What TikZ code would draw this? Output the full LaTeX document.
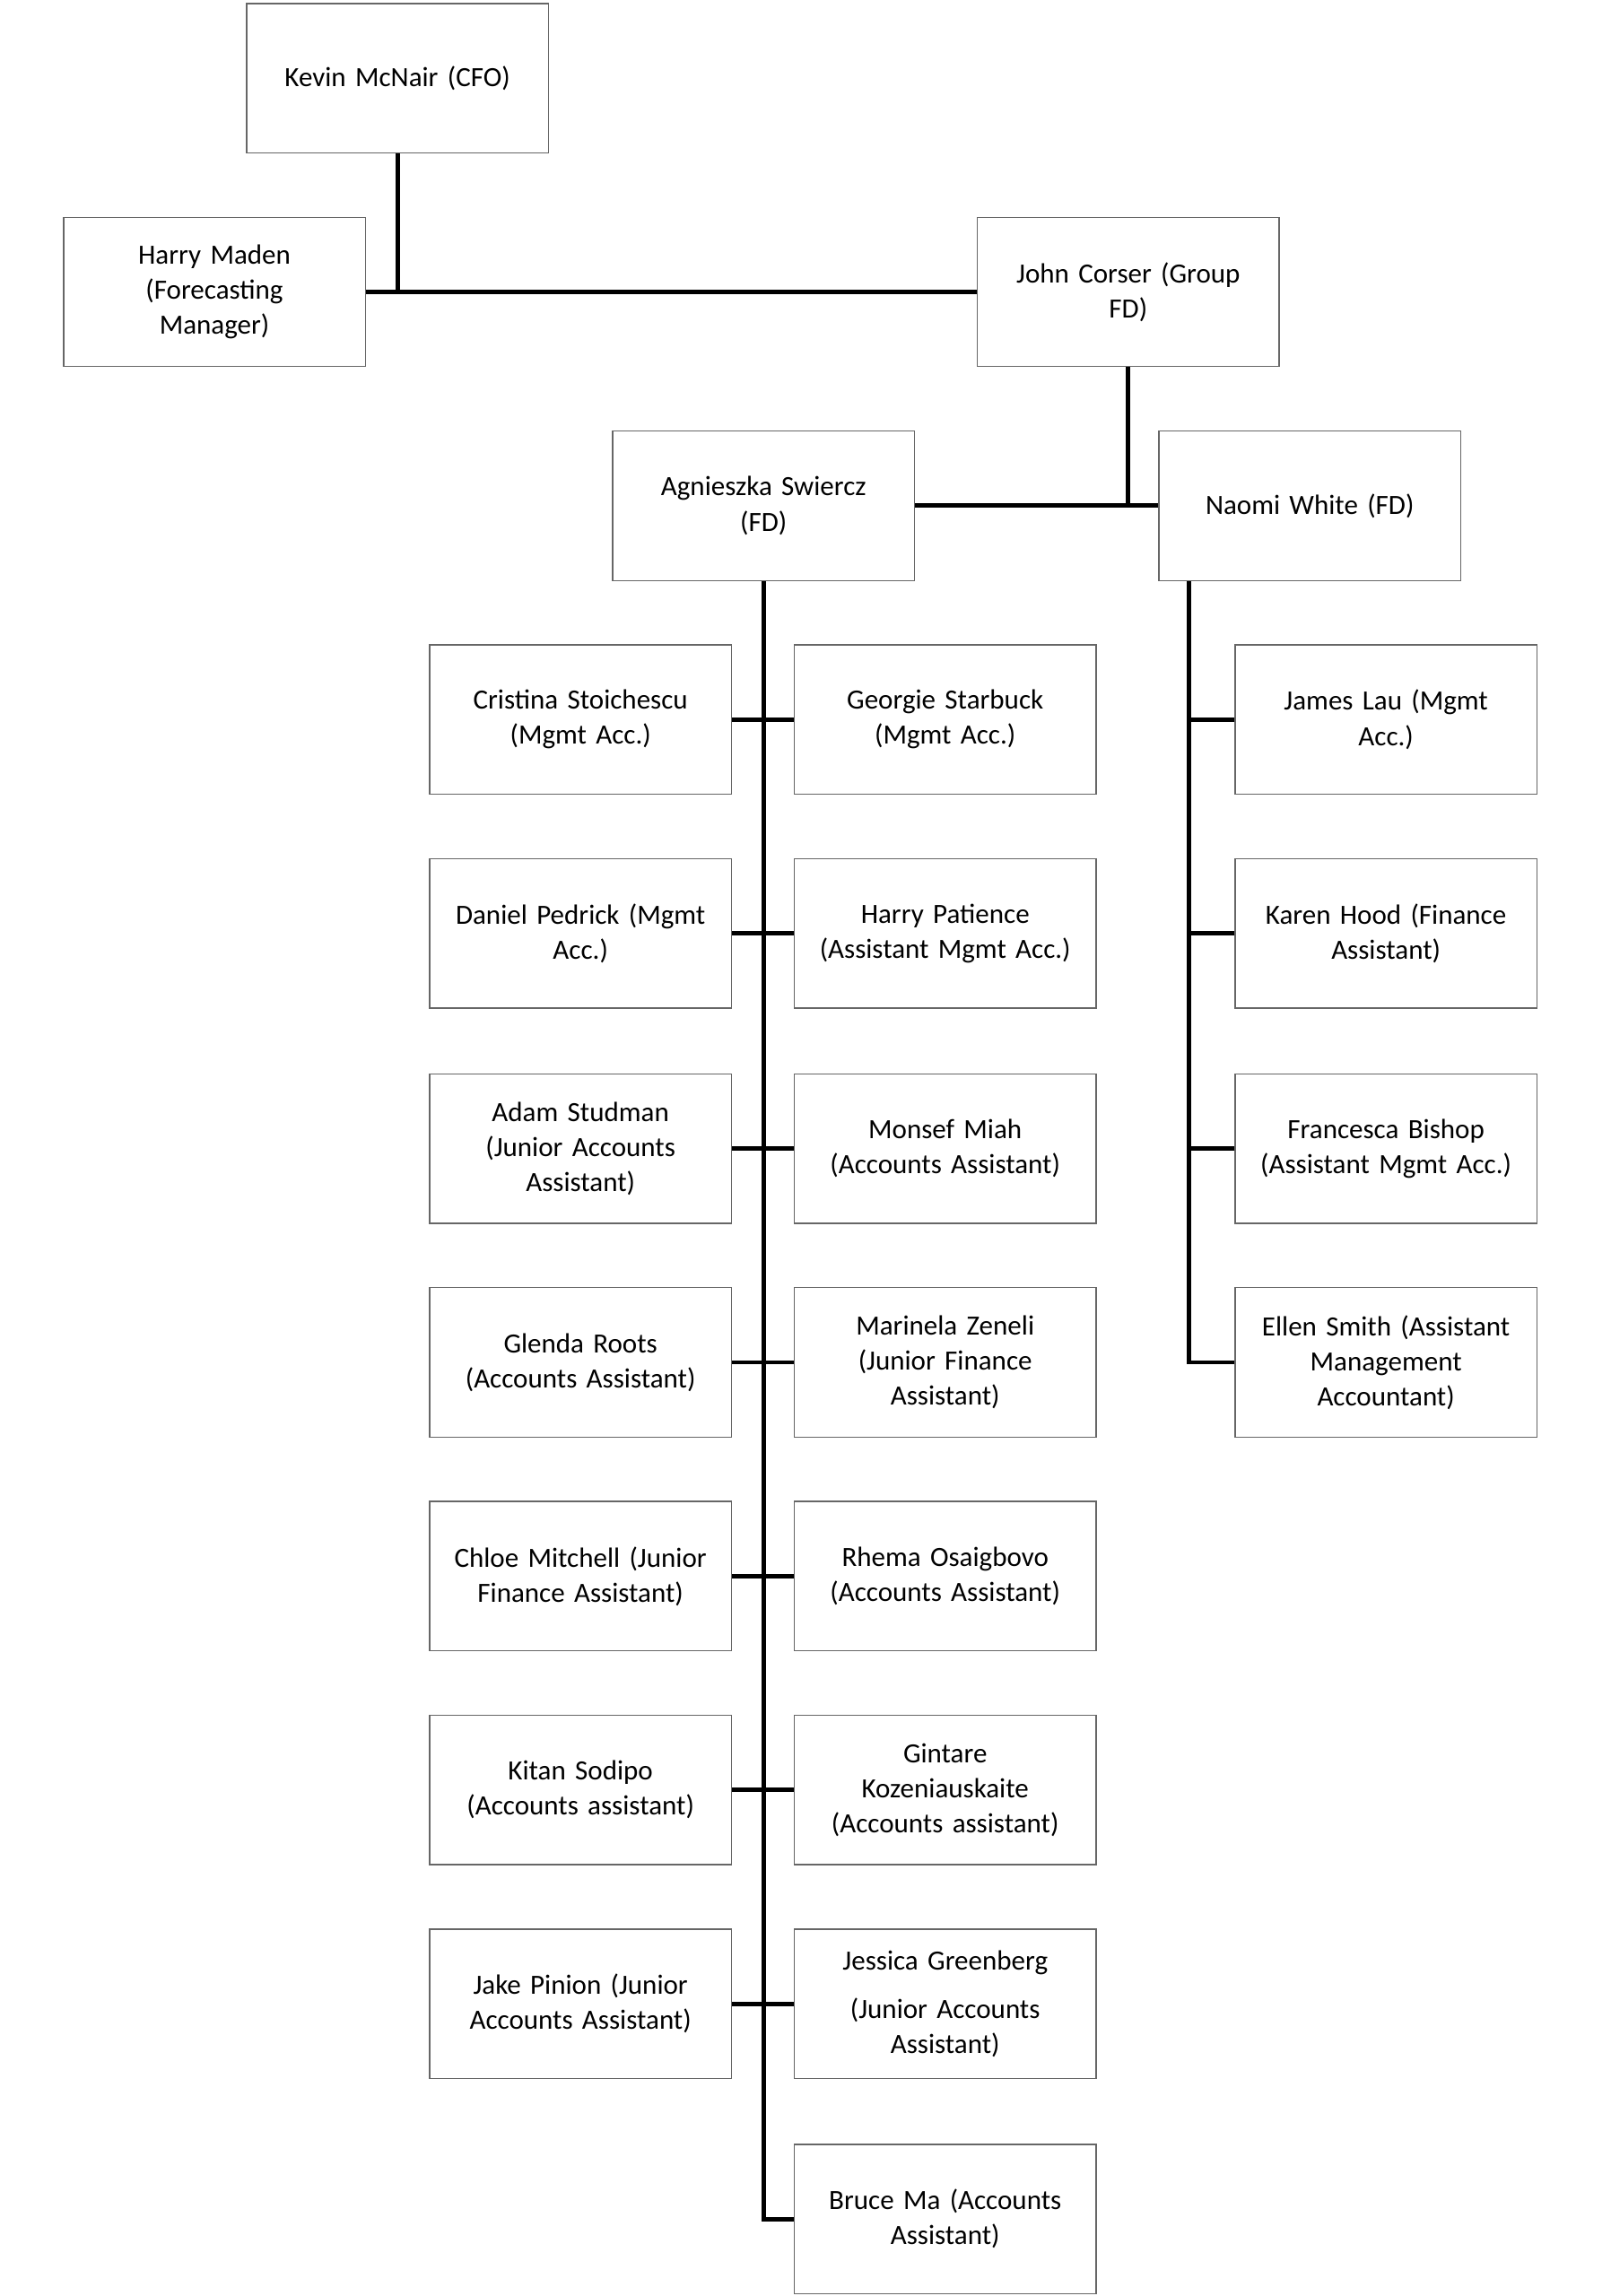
\documentclass[tikz,border=0pt]{standalone}
\usepackage{fontspec}
\setmainfont{Carlito}
\begin{document}
\begin{tikzpicture}[x=1pt,y=-1pt,
  box/.style={draw=black!60,line width=0.8pt,minimum width=206pt,minimum height=102pt,text width=200pt,align=center,inner sep=0pt,font=\fontsize{19}{24}\selectfont},
  con/.style={line width=3pt}]
\useasboundingbox (0,0) rectangle (1100,1568);
\node[box,anchor=north west] (kevin) at (168,2) {Kevin McNair (CFO)};
\node[box,anchor=north west] (harry) at (43,148) {Harry Maden\\(Forecasting\\Manager)};
\node[box,anchor=north west] (john) at (667,148) {John Corser (Group\\FD)};
\node[box,anchor=north west] (ag) at (418,294) {Agnieszka Swiercz\\(FD)};
\node[box,anchor=north west] (nw) at (791,294) {Naomi White (FD)};
% left column
\node[box,anchor=north west] (l1) at (293,440) {Cristina Stoichescu\\(Mgmt Acc.)};
\node[box,anchor=north west] (l2) at (293,586) {Daniel Pedrick (Mgmt\\Acc.)};
\node[box,anchor=north west] (l3) at (293,733) {Adam Studman\\(Junior Accounts\\Assistant)};
\node[box,anchor=north west] (l4) at (293,879) {Glenda Roots\\(Accounts Assistant)};
\node[box,anchor=north west] (l5) at (293,1025) {Chloe Mitchell (Junior\\Finance Assistant)};
\node[box,anchor=north west] (l6) at (293,1171) {Kitan Sodipo\\(Accounts assistant)};
\node[box,anchor=north west] (l7) at (293,1317) {Jake Pinion (Junior\\Accounts Assistant)};
% middle column
\node[box,anchor=north west] (m1) at (542,440) {Georgie Starbuck\\(Mgmt Acc.)};
\node[box,anchor=north west] (m2) at (542,586) {Harry Patience\\(Assistant Mgmt Acc.)};
\node[box,anchor=north west] (m3) at (542,733) {Monsef Miah\\(Accounts Assistant)};
\node[box,anchor=north west] (m4) at (542,879) {Marinela Zeneli\\(Junior Finance\\Assistant)};
\node[box,anchor=north west] (m5) at (542,1025) {Rhema Osaigbovo\\(Accounts Assistant)};
\node[box,anchor=north west] (m6) at (542,1171) {Gintare\\Kozeniauskaite\\(Accounts assistant)};
\node[box,anchor=north west] (m7) at (542,1317) {Jessica Greenberg\\[9pt](Junior Accounts\\Assistant)};
\node[box,anchor=north west] (m8) at (542,1464) {Bruce Ma (Accounts\\Assistant)};
% right column
\node[box,anchor=north west] (r1) at (843,440) {James Lau (Mgmt\\Acc.)};
\node[box,anchor=north west] (r2) at (843,586) {Karen Hood (Finance\\Assistant)};
\node[box,anchor=north west] (r3) at (843,733) {Francesca Bishop\\(Assistant Mgmt Acc.)};
\node[box,anchor=north west] (r4) at (843,879) {Ellen Smith (Assistant\\Management\\Accountant)};
% connectors
\draw[con] (kevin.south) -- (kevin.south |- harry.east);
\draw[con] (harry.east) -- (john.west);
\draw[con] (john.south) -- (john.south |- ag.east);
\draw[con] (ag.east) -- (nw.west);
\draw[con] (ag.south) |- (m8.west);
\foreach \i in {1,...,7} \draw[con] (l\i.east) -- (m\i.west);
\draw[con] ([xshift=21pt]nw.south west) coordinate (nt) |- (r4.west);
\foreach \i in {1,2,3} \draw[con] (r\i.west) -- (r\i.west -| nt);
\end{tikzpicture}
\end{document}
